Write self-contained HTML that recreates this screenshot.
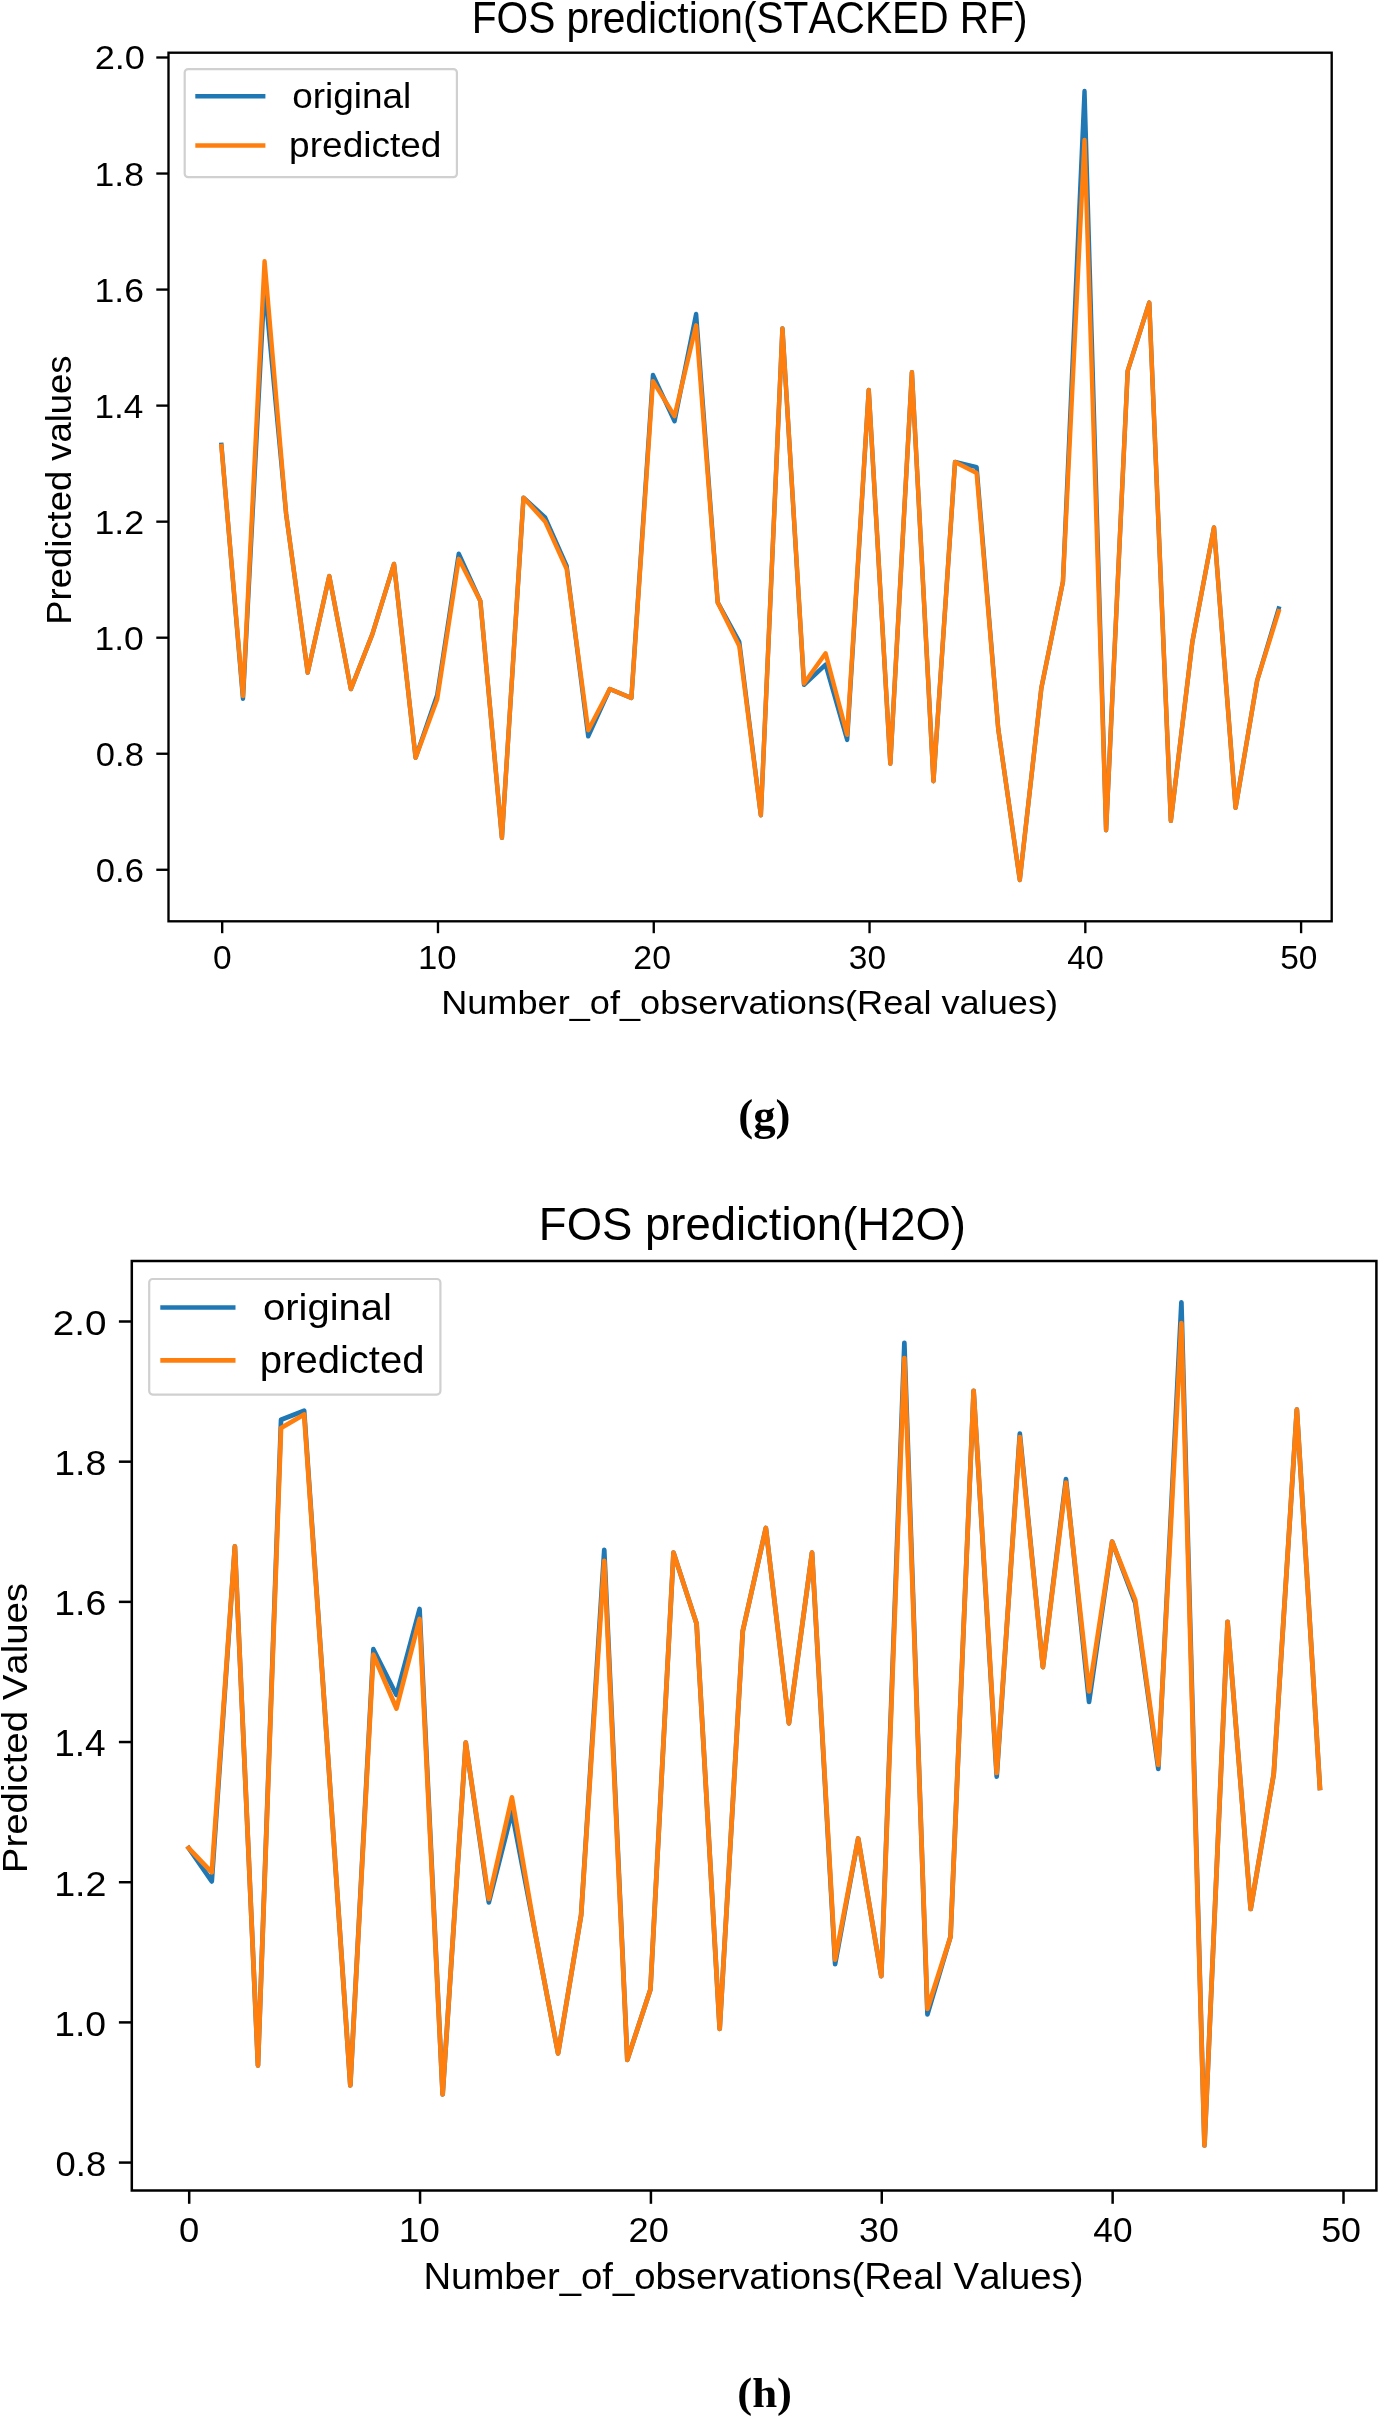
<!DOCTYPE html>
<html><head><meta charset="utf-8"><style>
html,body{margin:0;padding:0;background:#fff;}
svg{display:block;will-change:transform;}
text{font-family:"Liberation Sans",sans-serif;fill:#000;font-kerning:none;}
</style></head><body>
<svg width="1380" height="2416" viewBox="0 0 1380 2416">
<rect x="0" y="0" width="1380" height="2416" fill="#fff"/>
<polyline points="221.4,444.8 242.98,698.7 264.56,285 286.13,514 307.71,672.6 329.29,576.1 350.87,689.1 372.45,633.9 394.02,563.9 415.6,757.8 437.18,695 458.76,553.6 480.34,601 501.91,837.8 523.49,497.7 545.07,517.3 566.65,566 588.23,736.4 609.8,689 631.38,698 652.96,375 674.54,421.3 696.12,313.9 717.69,602.4 739.27,641.7 760.85,815.2 782.43,328.4 804.01,684.8 825.58,664.6 847.16,739.9 868.74,390 890.32,763.7 911.9,372.1 933.47,781.2 955.05,462 976.63,467.1 998.21,728.6 1019.79,880 1041.36,688 1062.94,581.6 1084.52,91 1106.1,830.2 1127.68,370.9 1149.25,302.6 1170.83,820.9 1192.41,641.6 1213.99,527.4 1235.57,807.9 1257.14,680.7 1278.72,608.4" fill="none" stroke="#1f77b4" stroke-width="4.4" stroke-linejoin="round" stroke-linecap="square"/>
<polyline points="221.4,446 242.98,696.1 264.56,261.3 286.13,514 307.71,672.6 329.29,576.1 350.87,689.1 372.45,633.9 394.02,563.9 415.6,757.8 437.18,699.3 458.76,558.8 480.34,601 501.91,837.8 523.49,497.7 545.07,521.4 566.65,569 588.23,730.2 609.8,689 631.38,698 652.96,381.2 674.54,416.1 696.12,325.3 717.69,602.4 739.27,645.9 760.85,815.2 782.43,328.4 804.01,683.5 825.58,653.2 847.16,734.8 868.74,390 890.32,763.7 911.9,372.1 933.47,781.2 955.05,462 976.63,473 998.21,728.6 1019.79,880 1041.36,688 1062.94,581.6 1084.52,140 1106.1,830.2 1127.68,370.9 1149.25,302.6 1170.83,820.9 1192.41,641.6 1213.99,527.4 1235.57,807.9 1257.14,680.7 1278.72,611.2" fill="none" stroke="#ff7f0e" stroke-width="4.4" stroke-linejoin="round" stroke-linecap="square"/>
<rect x="184.7" y="69.1" width="272.2" height="108.1" rx="3.5" ry="3.5" fill="#fff" fill-opacity="0.8" stroke="#d0d0d0" stroke-width="2.2"/>
<line x1="195.3" y1="96.25" x2="265.4" y2="96.25" stroke="#1f77b4" stroke-width="4.4"/>
<line x1="195.3" y1="145.5" x2="265.4" y2="145.5" stroke="#ff7f0e" stroke-width="4.4"/>
<text transform="translate(292.15,107.6) scale(1.0540,1)" font-size="35.05" style="font-family:Liberation Sans;font-weight:normal">original</text>
<text transform="translate(289.11,157) scale(1.0609,1)" font-size="34.92" style="font-family:Liberation Sans;font-weight:normal">predicted</text>
<rect x="168.5" y="52.7" width="1163.2" height="868.6" fill="none" stroke="#000" stroke-width="2.35"/>
<line x1="156.3" y1="869.78" x2="168.5" y2="869.78" stroke="#000" stroke-width="2.35"/>
<text transform="translate(95.85,881.76) scale(1.0553,1)" font-size="32.77">0.6</text>
<line x1="156.3" y1="753.74" x2="168.5" y2="753.74" stroke="#000" stroke-width="2.35"/>
<text transform="translate(95.85,765.72) scale(1.0549,1)" font-size="32.77">0.8</text>
<line x1="156.3" y1="637.7" x2="168.5" y2="637.7" stroke="#000" stroke-width="2.35"/>
<text transform="translate(94.5,649.68) scale(1.0820,1)" font-size="32.77">1.0</text>
<line x1="156.3" y1="521.66" x2="168.5" y2="521.66" stroke="#000" stroke-width="2.35"/>
<text transform="translate(94.48,533.96) scale(1.0765,1)" font-size="33.23">1.2</text>
<line x1="156.3" y1="405.62" x2="168.5" y2="405.62" stroke="#000" stroke-width="2.35"/>
<text transform="translate(94.52,417.92) scale(1.0434,1)" font-size="33.72">1.4</text>
<line x1="156.3" y1="289.58" x2="168.5" y2="289.58" stroke="#000" stroke-width="2.35"/>
<text transform="translate(94.49,301.56) scale(1.0861,1)" font-size="32.77">1.6</text>
<line x1="156.3" y1="173.54" x2="168.5" y2="173.54" stroke="#000" stroke-width="2.35"/>
<text transform="translate(94.49,185.52) scale(1.0857,1)" font-size="32.77">1.8</text>
<line x1="156.3" y1="57.5" x2="168.5" y2="57.5" stroke="#000" stroke-width="2.35"/>
<text transform="translate(94.68,69.48) scale(1.1050,1)" font-size="32.77">2.0</text>
<line x1="222.2" y1="921.3" x2="222.2" y2="933.2" stroke="#000" stroke-width="2.35"/>
<text transform="translate(212.89,969.08) scale(1.0215,1)" font-size="32.77">0</text>
<line x1="437.98" y1="921.3" x2="437.98" y2="933.2" stroke="#000" stroke-width="2.35"/>
<text transform="translate(418.04,969.08) scale(1.0590,1)" font-size="32.77">10</text>
<line x1="653.76" y1="921.3" x2="653.76" y2="933.2" stroke="#000" stroke-width="2.35"/>
<text transform="translate(633.36,969.08) scale(1.0322,1)" font-size="32.77">20</text>
<line x1="869.54" y1="921.3" x2="869.54" y2="933.2" stroke="#000" stroke-width="2.35"/>
<text transform="translate(848.87,969.08) scale(1.0200,1)" font-size="32.77">30</text>
<line x1="1085.32" y1="921.3" x2="1085.32" y2="933.2" stroke="#000" stroke-width="2.35"/>
<text transform="translate(1067.26,969.08) scale(1.0053,1)" font-size="32.77">40</text>
<line x1="1301.1" y1="921.3" x2="1301.1" y2="933.2" stroke="#000" stroke-width="2.35"/>
<text transform="translate(1280.16,969.08) scale(1.0220,1)" font-size="32.77">50</text>
<polyline points="188.7,1848.1 211.79,1881.4 234.87,1546.4 257.96,2065.3 281.04,1419.8 304.13,1410.7 327.22,1745 350.3,2085.3 373.39,1649.2 396.47,1695 419.56,1609 442.65,2094.4 465.73,1742.7 488.82,1902.3 511.9,1812 534.99,1932 558.08,2053.4 581.16,1914.8 604.25,1549.8 627.33,2059.8 650.42,1989.4 673.51,1552.6 696.59,1623.8 719.68,2028.8 742.76,1631.1 765.85,1528 788.94,1723.3 812.02,1552.6 835.11,1964.2 858.19,1838.5 881.28,1976.1 904.37,1342.9 927.45,2014.3 950.54,1936.7 973.62,1390.8 996.71,1776.7 1019.8,1433.6 1042.88,1667.1 1065.97,1479.1 1089.05,1702 1112.14,1541.7 1135.23,1603 1158.31,1769 1181.4,1302.4 1204.48,2145.4 1227.57,1621.8 1250.66,1909 1273.74,1774 1296.83,1409.6 1319.91,1787.9" fill="none" stroke="#1f77b4" stroke-width="4.7" stroke-linejoin="round" stroke-linecap="square"/>
<polyline points="188.7,1848.1 211.79,1872.3 234.87,1546.4 257.96,2065.3 281.04,1428 304.13,1414.4 327.22,1745 350.3,2085.3 373.39,1654.7 396.47,1708.5 419.56,1619 442.65,2094.4 465.73,1742.7 488.82,1899 511.9,1797.4 534.99,1932 558.08,2053.4 581.16,1914.8 604.25,1560.8 627.33,2059.8 650.42,1989.4 673.51,1552.6 696.59,1623.8 719.68,2028.8 742.76,1631.1 765.85,1528 788.94,1723.3 812.02,1552.6 835.11,1959.6 858.19,1838.5 881.28,1976.1 904.37,1358 927.45,2008.8 950.54,1936.7 973.62,1390.8 996.71,1773 1019.8,1437.2 1042.88,1667.1 1065.97,1482.7 1089.05,1691.5 1112.14,1541.7 1135.23,1600 1158.31,1765 1181.4,1323.2 1204.48,2145.4 1227.57,1621.8 1250.66,1909 1273.74,1774 1296.83,1409.6 1319.91,1787.9" fill="none" stroke="#ff7f0e" stroke-width="4.7" stroke-linejoin="round" stroke-linecap="square"/>
<rect x="149.2" y="1279" width="291.2" height="115.6" rx="3.5" ry="3.5" fill="#fff" fill-opacity="0.8" stroke="#d0d0d0" stroke-width="2.2"/>
<line x1="160.3" y1="1307.5" x2="235.5" y2="1307.5" stroke="#1f77b4" stroke-width="4.7"/>
<line x1="160.3" y1="1360.3" x2="235.5" y2="1360.3" stroke="#ff7f0e" stroke-width="4.7"/>
<text transform="translate(263.02,1319.9) scale(1.0577,1)" font-size="37.81" style="font-family:Liberation Sans;font-weight:normal">original</text>
<text transform="translate(259.82,1372.9) scale(1.0471,1)" font-size="38.23" style="font-family:Liberation Sans;font-weight:normal">predicted</text>
<rect x="131.8" y="1261" width="1244.6" height="929.5" fill="none" stroke="#000" stroke-width="2.5"/>
<line x1="118.9" y1="2162.58" x2="131.8" y2="2162.58" stroke="#000" stroke-width="2.5"/>
<text transform="translate(55.58,2175.84) scale(1.0392,1)" font-size="35.03">0.8</text>
<line x1="118.9" y1="2022.4" x2="131.8" y2="2022.4" stroke="#000" stroke-width="2.5"/>
<text transform="translate(54.16,2035.66) scale(1.0659,1)" font-size="35.03">1.0</text>
<line x1="118.9" y1="1882.22" x2="131.8" y2="1882.22" stroke="#000" stroke-width="2.5"/>
<text transform="translate(54.13,1895.82) scale(1.0605,1)" font-size="35.52">1.2</text>
<line x1="118.9" y1="1742.04" x2="131.8" y2="1742.04" stroke="#000" stroke-width="2.5"/>
<text transform="translate(54.18,1755.64) scale(1.0279,1)" font-size="36.05">1.4</text>
<line x1="118.9" y1="1601.86" x2="131.8" y2="1601.86" stroke="#000" stroke-width="2.5"/>
<text transform="translate(54.15,1615.12) scale(1.0700,1)" font-size="35.03">1.6</text>
<line x1="118.9" y1="1461.68" x2="131.8" y2="1461.68" stroke="#000" stroke-width="2.5"/>
<text transform="translate(54.15,1474.94) scale(1.0696,1)" font-size="35.03">1.8</text>
<line x1="118.9" y1="1321.5" x2="131.8" y2="1321.5" stroke="#000" stroke-width="2.5"/>
<text transform="translate(52.86,1334.76) scale(1.1040,1)" font-size="35.03">2.0</text>
<line x1="189.2" y1="2190.5" x2="189.2" y2="2203.8" stroke="#000" stroke-width="2.5"/>
<text transform="translate(179.08,2241.56) scale(1.0392,1)" font-size="35.03">0</text>
<line x1="420.06" y1="2190.5" x2="420.06" y2="2203.8" stroke="#000" stroke-width="2.5"/>
<text transform="translate(398.73,2241.56) scale(1.0594,1)" font-size="35.03">10</text>
<line x1="650.92" y1="2190.5" x2="650.92" y2="2203.8" stroke="#000" stroke-width="2.5"/>
<text transform="translate(628.6,2241.56) scale(1.0326,1)" font-size="35.03">20</text>
<line x1="881.78" y1="2190.5" x2="881.78" y2="2203.8" stroke="#000" stroke-width="2.5"/>
<text transform="translate(859.02,2241.56) scale(1.0204,1)" font-size="35.03">30</text>
<line x1="1112.64" y1="2190.5" x2="1112.64" y2="2203.8" stroke="#000" stroke-width="2.5"/>
<text transform="translate(1093.33,2241.56) scale(1.0057,1)" font-size="35.03">40</text>
<line x1="1343.5" y1="2190.5" x2="1343.5" y2="2203.8" stroke="#000" stroke-width="2.5"/>
<text transform="translate(1321.17,2241.56) scale(1.0224,1)" font-size="35.03">50</text>
<text transform="translate(471.66,32.6) scale(0.9240,1)" font-size="44.04" style="font-family:Liberation Sans;font-weight:normal">FOS prediction(STACKED RF)</text>
<text transform="translate(441.13,1013.9) scale(1.0819,1)" font-size="33.43" style="font-family:Liberation Sans;font-weight:normal">Number_of_observations(Real values)</text>
<text transform="translate(70.9,624.69) rotate(-90) scale(1.0664,1)" font-size="34.16">Predicted values</text>
<text transform="translate(538.87,1239.6) scale(0.9660,1)" font-size="47.09" style="font-family:Liberation Sans;font-weight:normal">FOS prediction(H2O)</text>
<text transform="translate(423.46,2289.1) scale(1.0629,1)" font-size="36.05" style="font-family:Liberation Sans;font-weight:normal">Number_of_observations(Real Values)</text>
<text transform="translate(27.2,1873.15) rotate(-90) scale(1.0737,1)" font-size="35.76">Predicted Values</text>
<text transform="translate(738.23,1130.32) scale(0.9956,1)" font-size="45.00" style="font-family:Liberation Serif;font-weight:bold">(g)</text>
<text transform="translate(737.23,2406.9) scale(1.0700,1)" font-size="41.94" style="font-family:Liberation Serif;font-weight:bold">(h)</text>
</svg>
</body></html>
